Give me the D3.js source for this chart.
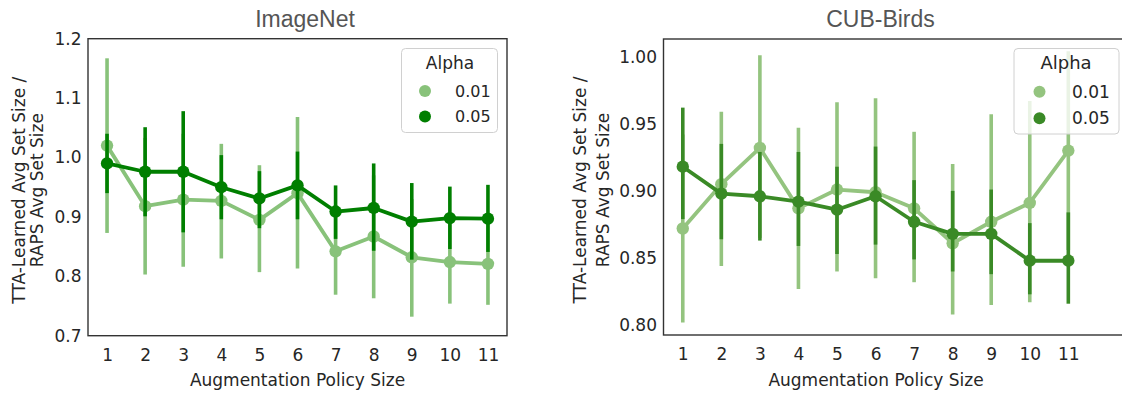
<!DOCTYPE html>
<html><head><meta charset="utf-8">
<script src="https://cdn.jsdelivr.net/npm/d3@7"></script>
<style>body{margin:0;background:#fff}svg{display:block}</style>
</head><body>
<svg id="c" width="1122" height="393"></svg>
<script>
// ---------- data ----------
const categories = [1,2,3,4,5,6,7,8,9,10,11];
const alphaLevels = ["0.01","0.05"];

const imagenetTicks = [0.7,0.8,0.9,1.0,1.1,1.2];
const imagenetMean001 = [1.020,0.918,0.929,0.927,0.895,0.940,0.842,0.867,0.832,0.824,0.821];
const imagenetLo001   = [0.873,0.803,0.816,0.830,0.807,0.813,0.769,0.763,0.732,0.754,0.752];
const imagenetHi001   = [1.167,1.033,1.040,1.023,0.987,1.068,0.920,0.970,0.930,0.890,0.890];
const imagenetMean005 = [0.990,0.976,0.976,0.950,0.931,0.953,0.909,0.915,0.892,0.898,0.897];
const imagenetLo005   = [0.940,0.901,0.874,0.896,0.881,0.896,0.863,0.843,0.828,0.846,0.841];
const imagenetHi005   = [1.040,1.051,1.078,1.004,0.977,1.010,0.953,0.990,0.957,0.951,0.954];

const cubTicks = [0.80,0.85,0.90,0.95,1.00];
const cubMean001 = [0.872,0.905,0.932,0.887,0.901,0.899,0.887,0.861,0.877,0.891,0.930];
const cubLo001   = [0.802,0.844,0.865,0.827,0.840,0.835,0.832,0.808,0.815,0.817,0.856];
const cubHi001   = [0.942,0.959,1.001,0.947,0.966,0.969,0.944,0.920,0.957,0.967,1.004];
const cubMean005 = [0.918,0.898,0.896,0.892,0.886,0.896,0.877,0.868,0.868,0.848,0.848];
const cubLo005   = [0.879,0.864,0.863,0.859,0.853,0.860,0.849,0.840,0.838,0.823,0.816];
const cubHi005   = [0.962,0.935,0.929,0.929,0.918,0.933,0.908,0.900,0.901,0.876,0.884];

// ---------- layout ----------
const panels = [
  { title:"ImageNet", ticks:imagenetTicks, fmt:d3.format(".1f"), domain:[0.7,1.2],
    x0:88, x1:507, frameRight:507, top:38.7, bottom:335.7, titleX:305, xlabelX:297.5,
    yl1:18.5, yl2:37, colors:["#88c27a","#007f00"],
    series:[[imagenetMean001,imagenetLo001,imagenetHi001],[imagenetMean005,imagenetLo005,imagenetHi005]],
    legend:{x:401.5,y:48.5,w:96,h:84,font:16,titleX:450,markX:425,labX:455,rows:[91,116.5],titleY:63} },
  { title:"CUB-Birds", ticks:cubTicks, fmt:d3.format(".2f"), domain:[0.7927,1.0131],
    x0:663.5, x1:1087.6, frameRight:1135, top:39, bottom:335, titleX:880.5, xlabelX:876,
    yl1:580, yl2:602.5, colors:["#94c47f","#3a8a26"],
    series:[[cubMean001,cubLo001,cubHi001],[cubMean005,cubLo005,cubHi005]],
    legend:{x:1014,y:48.5,w:105,h:85.5,font:17,titleX:1066,markX:1039.5,labX:1072,rows:[91.7,118.3],titleY:63} }
];

const svg = d3.select("#c");
const textCol = "#262626";
const font = "DejaVu Sans, sans-serif";

panels.forEach(p => {
  const g = svg.append("g");
  const x = d3.scalePoint().domain(categories).range([p.x0, p.x1]).padding(0.5);
  const y = d3.scaleLinear().domain(p.domain).range([p.bottom, p.top]);

  // frame
  g.append("rect").attr("x",p.x0).attr("y",p.top)
    .attr("width",p.frameRight-p.x0).attr("height",p.bottom-p.top)
    .attr("fill","none").attr("stroke","#333").attr("stroke-width",1.4);

  // axes (no tick marks, seaborn white style)
  const yAxis = d3.axisLeft(y).tickValues(p.ticks).tickFormat(p.fmt).tickSize(0).tickPadding(6.5);
  const ya = g.append("g").attr("transform",`translate(${p.x0},0)`).call(yAxis);
  const xAxis = d3.axisBottom(x).tickSize(0).tickPadding(13);
  const xa = g.append("g").attr("transform",`translate(0,${p.bottom})`).call(xAxis);
  [ya,xa].forEach(a=>{
    a.select(".domain").remove();
    a.selectAll("text").attr("font-family",font).attr("font-size",17).attr("fill",textCol);
  });

  // series
  p.series.forEach((s,i) => {
    const [mean,lo,hi] = s;
    const col = p.colors[i];
    const sg = g.append("g");
    sg.append("path")
      .datum(categories.map((c,k)=>[c,mean[k]]))
      .attr("d", d3.line().x(d=>x(d[0])).y(d=>y(d[1])))
      .attr("fill","none").attr("stroke",col).attr("stroke-width",3.8)
      .attr("stroke-linejoin","round");
    sg.selectAll(".eb").data(categories).join("line")
      .attr("x1",d=>x(d)).attr("x2",d=>x(d))
      .attr("y1",(d,k)=>y(lo[k])).attr("y2",(d,k)=>y(hi[k]))
      .attr("stroke",col).attr("stroke-width",3.6);
    sg.selectAll(".pt").data(categories).join("circle")
      .attr("cx",d=>x(d)).attr("cy",(d,k)=>y(mean[k])).attr("r",6.2)
      .attr("fill",col);
  });

  // title
  g.append("text").attr("x",p.titleX).attr("y",27).attr("text-anchor","middle")
    .attr("font-family","Liberation Sans, Arial, sans-serif").attr("font-size",23)
    .attr("fill","#555").text(p.title);

  // x label
  g.append("text").attr("x",p.xlabelX).attr("y",386).attr("text-anchor","middle")
    .attr("font-family",font).attr("font-size",17).attr("fill",textCol)
    .text("Augmentation Policy Size");

  // y label (two lines)
  const cy = (p.top+p.bottom)/2 + 3;
  [["TTA-Learned Avg Set Size /",p.yl1],["RAPS Avg Set Size",p.yl2]].forEach(([t,xx])=>{
    g.append("text").attr("transform",`translate(${xx+6},${cy}) rotate(-90)`)
      .attr("text-anchor","middle").attr("font-family",font).attr("font-size",17)
      .attr("fill",textCol).text(t);
  });

  // legend
  const L = p.legend;
  const lg = g.append("g");
  lg.append("rect").attr("x",L.x).attr("y",L.y).attr("width",L.w).attr("height",L.h)
    .attr("rx",4).attr("fill","#fff").attr("fill-opacity",0.8)
    .attr("stroke","#d0d0d0").attr("stroke-width",1);
  lg.append("text").attr("x",L.titleX).attr("y",L.titleY).attr("dy","0.35em")
    .attr("text-anchor","middle").attr("font-family",font).attr("font-size",L.font+1)
    .attr("fill",textCol).text("Alpha");
  alphaLevels.forEach((a,i)=>{
    lg.append("circle").attr("cx",L.markX).attr("cy",L.rows[i]).attr("r",6).attr("fill",p.colors[i]);
    lg.append("text").attr("x",L.labX).attr("y",L.rows[i]).attr("dy","0.35em")
      .attr("font-family",font).attr("font-size",L.font).attr("fill",textCol).text(a);
  });
});
</script>
</body></html>
